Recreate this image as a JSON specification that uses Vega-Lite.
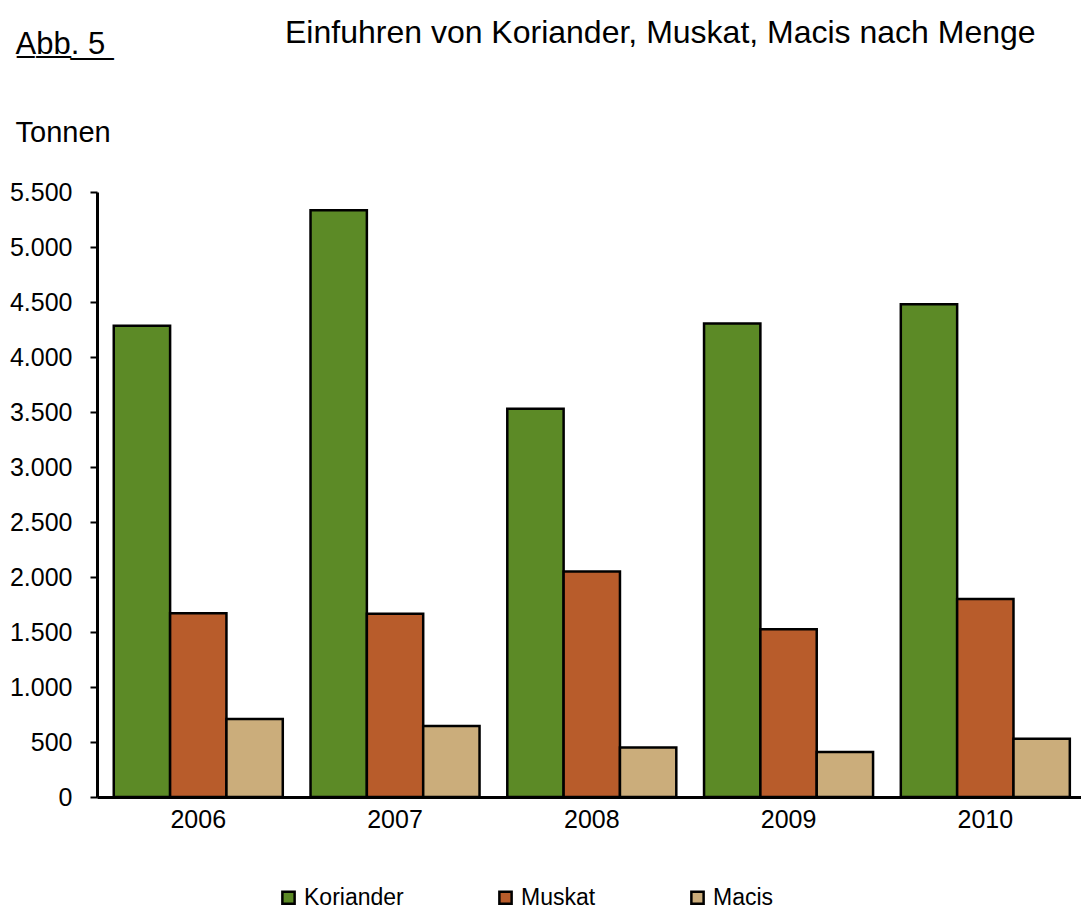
{
  "$schema": "https://vega.github.io/schema/vega-lite/v6.json",
  "autosize": {"type": "none"},
  "width": 984,
  "height": 605,
  "padding": {"left": 97, "top": 192, "right": 0, "bottom": 121},
  "background": "white",
  "title": {
    "text": "Einfuhren von Koriander, Muskat, Macis nach Menge",
    "anchor": "start",
    "frame": "group",
    "dx": 188,
    "dy": 26,
    "fontSize": 32,
    "fontWeight": "normal",
    "color": "black",
    "font": "Liberation Sans"
  },
  "data": {
    "values": [
      {"year": "2006", "series": "Koriander", "value": 4285},
      {"year": "2006", "series": "Muskat", "value": 1670},
      {"year": "2006", "series": "Macis", "value": 710},
      {"year": "2007", "series": "Koriander", "value": 5335},
      {"year": "2007", "series": "Muskat", "value": 1665},
      {"year": "2007", "series": "Macis", "value": 645},
      {"year": "2008", "series": "Koriander", "value": 3530},
      {"year": "2008", "series": "Muskat", "value": 2050},
      {"year": "2008", "series": "Macis", "value": 450},
      {"year": "2009", "series": "Koriander", "value": 4305},
      {"year": "2009", "series": "Muskat", "value": 1525},
      {"year": "2009", "series": "Macis", "value": 410},
      {"year": "2010", "series": "Koriander", "value": 4480},
      {"year": "2010", "series": "Muskat", "value": 1800},
      {"year": "2010", "series": "Macis", "value": 530}
    ]
  },
  "mark": {"type": "bar", "stroke": "black", "strokeWidth": 2.5},
  "encoding": {
    "x": {
      "field": "year",
      "type": "nominal",
      "scale": {"paddingInner": 0.141, "paddingOuter": 0.071, "align": 0.6},
      "axis": {
        "title": "A\u0332b\u0332b\u0332.\u0332 \u03325\u0332",
        "titleX": -82,
        "titleY": -744,
        "titleAlign": "left",
        "titleAnchor": null,
        "titleBaseline": "alphabetic",
        "titleFontSize": 31,
        "titleFontWeight": "normal",
        "titleColor": "black",
        "titleFont": "Liberation Sans",
        "labelAngle": 0,
        "labelFontSize": 25,
        "labelColor": "black",
        "labelFont": "Liberation Sans",
        "labelPadding": 10,
        "ticks": false,
        "domainColor": "black",
        "domainWidth": 3
      }
    },
    "xOffset": {
      "field": "series",
      "sort": ["Koriander", "Muskat", "Macis"],
      "scale": {"paddingInner": 0, "paddingOuter": 0}
    },
    "y": {
      "field": "value",
      "type": "quantitative",
      "scale": {"domain": [0, 5500], "nice": false},
      "axis": {
        "title": "Tonnen",
        "titleAngle": 0,
        "titleX": -82,
        "titleY": -51,
        "titleAlign": "left",
        "titleAnchor": null,
        "titleBaseline": "alphabetic",
        "titleFontSize": 29,
        "titleFontWeight": "normal",
        "titleColor": "black",
        "titleFont": "Liberation Sans",
        "values": [0, 500, 1000, 1500, 2000, 2500, 3000, 3500, 4000, 4500, 5000, 5500],
        "labelExpr": "replace(format(datum.value, ','), ',', '.')",
        "labelFontSize": 25,
        "labelColor": "black",
        "labelFont": "Liberation Sans",
        "labelPadding": 18,
        "tickSize": 7,
        "tickWidth": 2,
        "tickColor": "black",
        "domainColor": "black",
        "domainWidth": 3,
        "grid": false
      }
    },
    "color": {
      "field": "series",
      "type": "nominal",
      "sort": ["Koriander", "Muskat", "Macis"],
      "scale": {"domain": ["Koriander", "Muskat", "Macis"], "range": ["#5c8a26", "#b85c2b", "#cbad7b"]},
      "legend": {
        "orient": "none",
        "legendX": 180,
        "legendY": 694,
        "direction": "horizontal",
        "columns": 3,
        "title": null,
        "symbolType": "square",
        "symbolSize": 150,
        "symbolStrokeColor": "black",
        "symbolStrokeWidth": 2.5,
        "symbolOpacity": 1,
        "labelFontSize": 23,
        "labelColor": "black",
        "labelFont": "Liberation Sans",
        "labelOffset": 4,
        "columnPadding": 90
      }
    }
  },
  "config": {"view": {"stroke": null}, "font": "Liberation Sans"}
}
